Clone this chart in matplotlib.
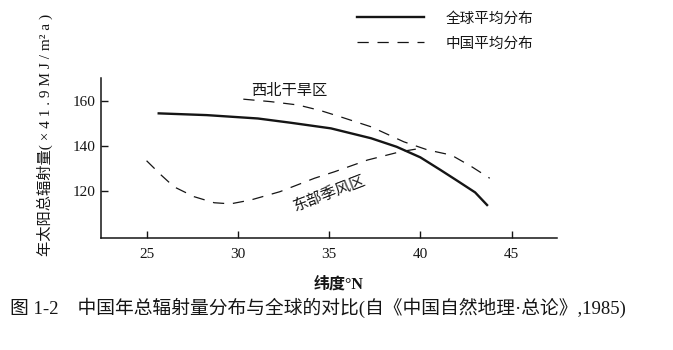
import matplotlib

matplotlib.use("Agg")
import matplotlib.pyplot as plt
from matplotlib.lines import Line2D

plt.rcParams["font.family"] = ["Liberation Serif", "Noto Sans CJK SC", "DejaVu Sans"]
CJK = ["Noto Sans CJK SC", "DejaVu Sans"]
MIXED = ["Liberation Serif", "Noto Sans CJK SC", "DejaVu Sans"]

# global mean annual total radiation vs latitude (units of 41.9 MJ/m²a)
global_lat = [25.6, 28.3, 31.1, 32.9, 35.1, 37.3, 38.7, 40.0, 41.1, 42.0, 43.0, 43.7]
global_val = [154.7, 153.9, 152.4, 150.5, 148.0, 143.6, 139.8, 135.1, 129.5, 124.8, 119.5, 113.5]

# north-west arid region
nw_lat = [30.3, 31.8, 33.3, 34.5, 35.6, 37.3, 39.1, 40.4, 41.7, 42.8, 43.8]
nw_val = [161.0, 159.9, 158.4, 156.0, 153.2, 148.7, 142.0, 138.4, 136.1, 131.0, 125.8]

# eastern monsoon region
east_lat = [25.0, 25.8, 26.5, 27.6, 28.7, 29.6, 30.7, 32.3, 34.2, 35.3, 37.1, 38.9, 40.0]
east_val = [133.6, 127.2, 122.0, 117.6, 114.9, 114.4, 116.1, 119.8, 125.8, 128.7, 133.9, 137.6, 139.1]

x_ticks = [25, 30, 35, 40, 45]
y_ticks = [120, 140, 160]

legend_labels = ["全球平均分布", "中国平均分布"]
region_labels = ["西北干旱区", "东部季风区"]
x_label = "纬度°N"
y_label = "年太阳总辐射量( × 4 1 . 9 M J / m² a )"
caption = "图 1-2    中国年总辐射量分布与全球的对比(自《中国自然地理·总论》,1985)"

ink = "#151515"
dash = (9, 7)

fig = plt.figure(figsize=(6.73, 3.5), dpi=100)
ax = fig.add_axes([0.150, 0.320, 0.678, 0.457])

ax.plot(global_lat, global_val, color=ink, lw=1.7, solid_capstyle="butt")
ax.plot(nw_lat, nw_val, color=ink, lw=0.9, dashes=dash)
ax.plot(east_lat, east_val, color=ink, lw=0.9, dashes=dash)

ax.set_xlim(22.5, 47.5)
ax.set_ylim(99.2, 170.4)
ax.set_xticks(x_ticks)
ax.set_yticks(y_ticks)
ax.tick_params(direction="in", length=5, width=1.0, labelsize=11, color=ink,
               labelcolor=ink)
ax.tick_params(axis="x", pad=7)
ax.tick_params(axis="y", pad=4)
for side in ("top", "right"):
    ax.spines[side].set_visible(False)
for side in ("left", "bottom"):
    ax.spines[side].set_linewidth(1.1)
    ax.spines[side].set_color(ink)

ax.text(32.8, 165.0, region_labels[0], family=CJK, fontsize=11, color=ink,
        ha="center", va="center")
ax.text(35.0, 119.0, region_labels[1], family=CJK, fontsize=11, color=ink,
        ha="center", va="center", rotation=21)

handles = [
    Line2D([], [], color=ink, lw=1.7),
    Line2D([], [], color=ink, lw=0.9, dashes=dash),
]
leg = fig.legend(handles, legend_labels, loc="upper left",
                 bbox_to_anchor=(0.530, 0.967), frameon=False,
                 prop={"family": CJK, "size": 10.5}, handlelength=4.6,
                 handletextpad=1.5, labelspacing=0.75, borderpad=0,
                 borderaxespad=0)
for t in leg.get_texts():
    t.set_color(ink)

fig.text(0.067, 0.614, y_label, family=MIXED, fontsize=11, rotation=90,
         ha="center", va="center", color=ink)
fig.text(0.503, 0.186, x_label, family=MIXED, fontsize=11.5, ha="center",
         va="center", color=ink, weight="bold")
fig.text(0.015, 0.120, caption, family=MIXED, fontsize=13.5, ha="left",
         va="center", color=ink)

fig.savefig("out.png", dpi=100)
